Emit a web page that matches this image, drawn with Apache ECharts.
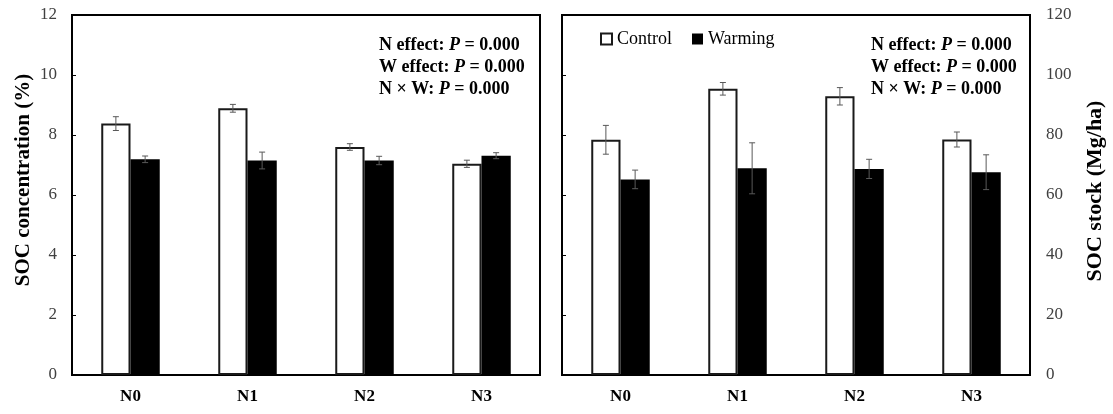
<!DOCTYPE html>
<html>
<head>
<meta charset="utf-8">
<script src="https://cdn.jsdelivr.net/npm/echarts@6/dist/echarts.min.js"></script>
<style>
html, body { margin: 0; padding: 0; background: #fff; }
#main { width: 1113px; height: 414px; }
</style>
</head>
<body>
<div id="main"></div>
<script>
// data
const categories = ["N0", "N1", "N2", "N3"];
const concControl = [8.38, 8.89, 7.60, 7.04];
const concControlErr = [0.23, 0.13, 0.11, 0.12];
const concWarming = [7.19, 7.15, 7.15, 7.31];
const concWarmingErr = [0.11, 0.28, 0.14, 0.10];
const stockControl = [78.4, 95.4, 92.9, 78.5];
const stockControlErr = [4.8, 2.1, 2.9, 2.5];
const stockWarming = [65.2, 68.9, 68.7, 67.6];
const stockWarmingErr = [3.1, 8.5, 3.2, 5.8];
const statLabels = ["N effect: ", "W effect: ", "N \u00d7 W: "];
const statValues = ["0.000", "0.000", "0.000"];

const serif = "'Liberation Serif', 'Times New Roman', serif";

function statText() {
  return statLabels.map(function (s, i) {
    return "{b|" + s + "}{i|P}{b| = " + statValues[i] + "}";
  }).join("\n");
}

const statRich = {
  b: { fontFamily: serif, fontWeight: "bold", fontSize: 18, color: "#000", lineHeight: 22 },
  i: { fontFamily: serif, fontWeight: "bold", fontStyle: "italic", fontSize: 18, color: "#000", lineHeight: 22 }
};

function errorSeries(xi, yi, values, errs, side) {
  return {
    type: "custom",
    xAxisIndex: xi,
    yAxisIndex: yi,
    silent: true,
    z: 5,
    data: values.map(function (v, i) { return [i, v - errs[i], v + errs[i]]; }),
    renderItem: function (params, api) {
      var band = api.size([1, 0])[0];
      var off = side * band * 0.125;
      var lo = api.coord([api.value(0), api.value(1)]);
      var hi = api.coord([api.value(0), api.value(2)]);
      var x = lo[0] + off;
      var cap = 3;
      var style = { stroke: "#595959", lineWidth: 1 };
      return {
        type: "group",
        children: [
          { type: "line", shape: { x1: x, y1: lo[1], x2: x, y2: hi[1] }, style: style },
          { type: "line", shape: { x1: x - cap, y1: hi[1], x2: x + cap, y2: hi[1] }, style: style },
          { type: "line", shape: { x1: x - cap, y1: lo[1], x2: x + cap, y2: lo[1] }, style: style }
        ]
      };
    }
  };
}

function catAxis(gi) {
  return {
    type: "category",
    gridIndex: gi,
    data: categories,
    axisTick: { show: false },
    axisLine: { lineStyle: { color: "#000", width: 2 } },
    axisLabel: { fontFamily: serif, fontWeight: "bold", fontSize: 17, color: "#000", margin: 13 }
  };
}

const controlStyle = { color: "#fff", borderColor: "#1a1a1a", borderWidth: 2 };
const warmingStyle = { color: "#000" };

var myChart = echarts.init(document.getElementById("main"));
myChart.setOption({
  animation: false,
  title: [
    { text: statText(), left: 379, top: 34, padding: 0, textStyle: { rich: statRich } },
    { text: statText(), left: 871, top: 34, padding: 0, textStyle: { rich: statRich } }
  ],
  legend: {
    data: ["Control", "Warming"],
    left: 600,
    top: 30,
    padding: 0,
    icon: "rect",
    itemWidth: 11,
    itemHeight: 11,
    itemGap: 20,
    textStyle: { fontFamily: serif, fontSize: 18, color: "#000" }
  },
  grid: [
    { left: 72, top: 15, width: 468, height: 360, show: true, borderColor: "#000", borderWidth: 2 },
    { left: 562, top: 15, width: 468, height: 360, show: true, borderColor: "#000", borderWidth: 2 }
  ],
  xAxis: [catAxis(0), catAxis(1)],
  yAxis: [
    {
      type: "value",
      gridIndex: 0,
      min: 0, max: 12, interval: 2,
      name: "SOC concentration (%)",
      nameLocation: "middle",
      nameGap: 38,
      nameTextStyle: { fontFamily: serif, fontWeight: "bold", fontSize: 21, color: "#000", padding: [0, 0, 0, 30] },
      splitLine: { show: false },
      axisLine: { show: true, lineStyle: { color: "#000", width: 2 } },
      axisTick: { show: true, inside: true, length: 4, lineStyle: { color: "#000", width: 1 } },
      axisLabel: { fontFamily: serif, fontSize: 17, color: "#404040", margin: 15 }
    },
    {
      type: "value",
      gridIndex: 1,
      position: "left",
      min: 0, max: 120, interval: 20,
      splitLine: { show: false },
      axisLine: { show: true, lineStyle: { color: "#000", width: 2 } },
      axisTick: { show: true, inside: true, length: 4, lineStyle: { color: "#000", width: 1 } },
      axisLabel: { show: false }
    },
    {
      type: "value",
      gridIndex: 1,
      position: "right",
      min: 0, max: 120, interval: 20,
      name: "SOC stock (Mg/ha)",
      nameLocation: "middle",
      nameGap: 54,
      nameTextStyle: { fontFamily: serif, fontWeight: "bold", fontSize: 22, color: "#000", padding: [0, 0, 0, 8] },
      splitLine: { show: false },
      axisLine: { show: true, lineStyle: { color: "#000", width: 2 } },
      axisTick: { show: false },
      axisLabel: { fontFamily: serif, fontSize: 17, color: "#404040", margin: 16 }
    }
  ],
  series: [
    {
      name: "Control", type: "bar", xAxisIndex: 0, yAxisIndex: 0,
      data: concControl, itemStyle: controlStyle,
      barGap: "0%", barCategoryGap: "50%"
    },
    {
      name: "Warming", type: "bar", xAxisIndex: 0, yAxisIndex: 0,
      data: concWarming, itemStyle: warmingStyle,
      barGap: "0%", barCategoryGap: "50%"
    },
    {
      name: "Control", type: "bar", xAxisIndex: 1, yAxisIndex: 1,
      data: stockControl, itemStyle: controlStyle,
      barGap: "0%", barCategoryGap: "50%"
    },
    {
      name: "Warming", type: "bar", xAxisIndex: 1, yAxisIndex: 1,
      data: stockWarming, itemStyle: warmingStyle,
      barGap: "0%", barCategoryGap: "50%"
    },
    errorSeries(0, 0, concControl, concControlErr, -1),
    errorSeries(0, 0, concWarming, concWarmingErr, 1),
    errorSeries(1, 1, stockControl, stockControlErr, -1),
    errorSeries(1, 1, stockWarming, stockWarmingErr, 1)
  ]
});
</script>
</body>
</html>
